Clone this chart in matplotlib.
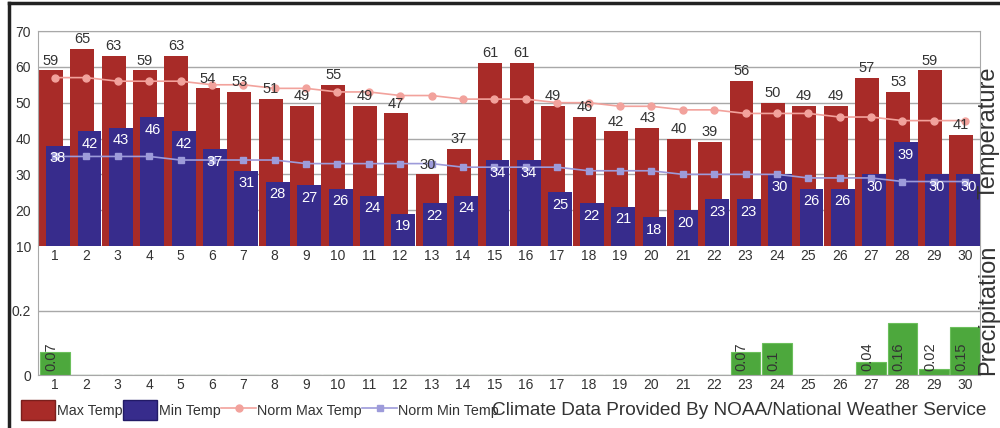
import numpy as np
import matplotlib
matplotlib.use("Agg")
import matplotlib.pyplot as plt
from matplotlib.patches import Patch
from matplotlib.lines import Line2D

plt.rcParams['font.family'] = ['Liberation Sans', 'DejaVu Sans']

days = list(range(1, 31))
max_temp = [59, 65, 63, 59, 63, 54, 53, 51, 49, 55, 49, 47, 30, 37, 61,
            61, 49, 46, 42, 43, 40, 39, 56, 50, 49, 49, 57, 53, 59, 41]
min_temp = [38, 42, 43, 46, 42, 37, 31, 28, 27, 26, 24, 19, 22, 24, 34,
            34, 25, 22, 21, 18, 20, 23, 23, 30, 26, 26, 30, 39, 30, 30]
norm_max = [57, 57, 56, 56, 56, 55, 55, 54, 54, 53, 53, 52, 52, 51, 51,
            51, 50, 50, 49, 49, 48, 48, 47, 47, 47, 46, 46, 45, 45, 45]
norm_min = [35, 35, 35, 35, 34, 34, 34, 34, 33, 33, 33, 33, 33, 32, 32,
            32, 32, 31, 31, 31, 30, 30, 30, 30, 29, 29, 29, 28, 28, 28]
precip = [0.07, 0, 0, 0, 0, 0, 0, 0, 0, 0, 0, 0, 0, 0, 0,
          0, 0, 0, 0, 0, 0, 0, 0.07, 0.1, 0, 0, 0.04, 0.16, 0.02, 0.15]

red = '#A82B28'
blue = '#372C8C'
pink = '#F2A29C'
lav = '#9D9BDA'
green = '#4DA83D'
grid_c = '#A8A8A8'
txt = '#333333'

fig = plt.figure(figsize=(10, 4.28), dpi=100)
x = np.array(days)

# precipitation panel (drawn first, so the temperature day labels sit on top)
ax2 = fig.add_axes([0.038, 0.1238, 0.942, 0.3014])
ax2.patch.set_alpha(0)
ax2.set_ylim(0, 0.4)
ax2.set_xlim(0.46, 30.47)
ax2.set_yticks([0, 0.2])
ax2.set_yticklabels(['0', '0.2'])
ax2.grid(axis='y', color=grid_c, lw=1)
ax2.set_axisbelow(True)
for s in ['left', 'right', 'bottom']:
    ax2.spines[s].set_color(grid_c)
ax2.spines['top'].set_visible(False)
ax2.bar(x, precip, width=0.94, color=green, edgecolor='#6CBF5C', lw=0.8, zorder=2)
for d, v in zip(days, precip):
    if v > 0:
        ax2.annotate(f'{v:g}', (d - 0.12, 0), xytext=(0, 3), textcoords='offset points',
                     rotation=90, ha='center', va='bottom', fontsize=10.5, color=txt, zorder=5)
ax2.set_xticks(days)
ax2.set_xticklabels([str(d) for d in days])
ax2.tick_params(axis='both', length=0, labelsize=10, labelcolor=txt)
ax2.tick_params(axis='x', pad=2)
ax2.tick_params(axis='y', pad=5)

# temperature panel
ax = fig.add_axes([0.038, 0.4252, 0.942, 0.5023])
ax.patch.set_alpha(0)
ax.set_ylim(10, 70)
ax.set_xlim(0.46, 30.47)
ax.set_yticks(range(10, 71, 10))
ax.grid(axis='y', color=grid_c, lw=1)
ax.set_axisbelow(True)
for s in ['left', 'top', 'right']:
    ax.spines[s].set_color(grid_c)
ax.spines['bottom'].set_visible(False)

ax.bar(x - 0.13, np.array(max_temp) - 10, bottom=10, width=0.76, color=red, zorder=2)
ax.bar(x + 0.10, np.array(min_temp) - 10, bottom=10, width=0.76, color=blue, zorder=3)
ax.plot(x, norm_max, color=pink, marker='o', ms=5, lw=1.2, zorder=4)
ax.plot(x, norm_min, color=lav, marker='s', ms=5, lw=1.2, zorder=4)

for d, v in zip(days, max_temp):
    ax.annotate(str(v), (d - 0.13, v), xytext=(0, 2), textcoords='offset points',
                ha='center', va='bottom', fontsize=10.5, color=txt, zorder=5)
for d, v in zip(days, min_temp):
    ax.annotate(str(v), (d + 0.10, v), xytext=(0, -9), textcoords='offset points',
                ha='center', va='center', fontsize=10.5, color='white', zorder=5)

ax.set_xticks(days)
ax.set_xticklabels([str(d) for d in days])
ax.tick_params(axis='both', length=0, labelsize=10, labelcolor=txt)
ax.tick_params(axis='x', pad=2)
ax.tick_params(axis='y', pad=5)

# side titles
fig.text(0.9995, 0.69, 'Temperature', rotation=90, ha='right', va='center',
         fontsize=17, color=txt)
fig.text(0.9995, 0.277, 'Precipitation', rotation=90, ha='right', va='center',
         fontsize=17, color=txt)

# legend
handles = [Patch(facecolor=red, edgecolor='#7a1f1c'),
           Patch(facecolor=blue, edgecolor='#221a66'),
           Line2D([], [], color=pink, marker='o', ms=5, lw=1.2),
           Line2D([], [], color=lav, marker='s', ms=5, lw=1.2)]
fig.legend(handles, ['Max Temp', 'Min Temp', 'Norm Max Temp', 'Norm Min Temp'],
           loc='center left', bbox_to_anchor=(0.021, 0.042), ncol=4, frameon=False,
           fontsize=10.3, handlelength=2.4, handleheight=1.7, handletextpad=0.1,
           columnspacing=0.05, borderpad=0, borderaxespad=0, labelcolor=txt)
fig.text(0.492, 0.042, 'Climate Data Provided By NOAA/National Weather Service',
         ha='left', va='center', fontsize=13.7, color=txt)

# screenshot frame
fig.add_artist(Line2D([0.009, 0.009], [0, 0.993], transform=fig.transFigure,
                      color='#222222', lw=2.5))
fig.add_artist(Line2D([0.009, 1], [0.993, 0.993], transform=fig.transFigure,
                      color='#222222', lw=2.5))

fig.savefig('out.png', dpi=100)
